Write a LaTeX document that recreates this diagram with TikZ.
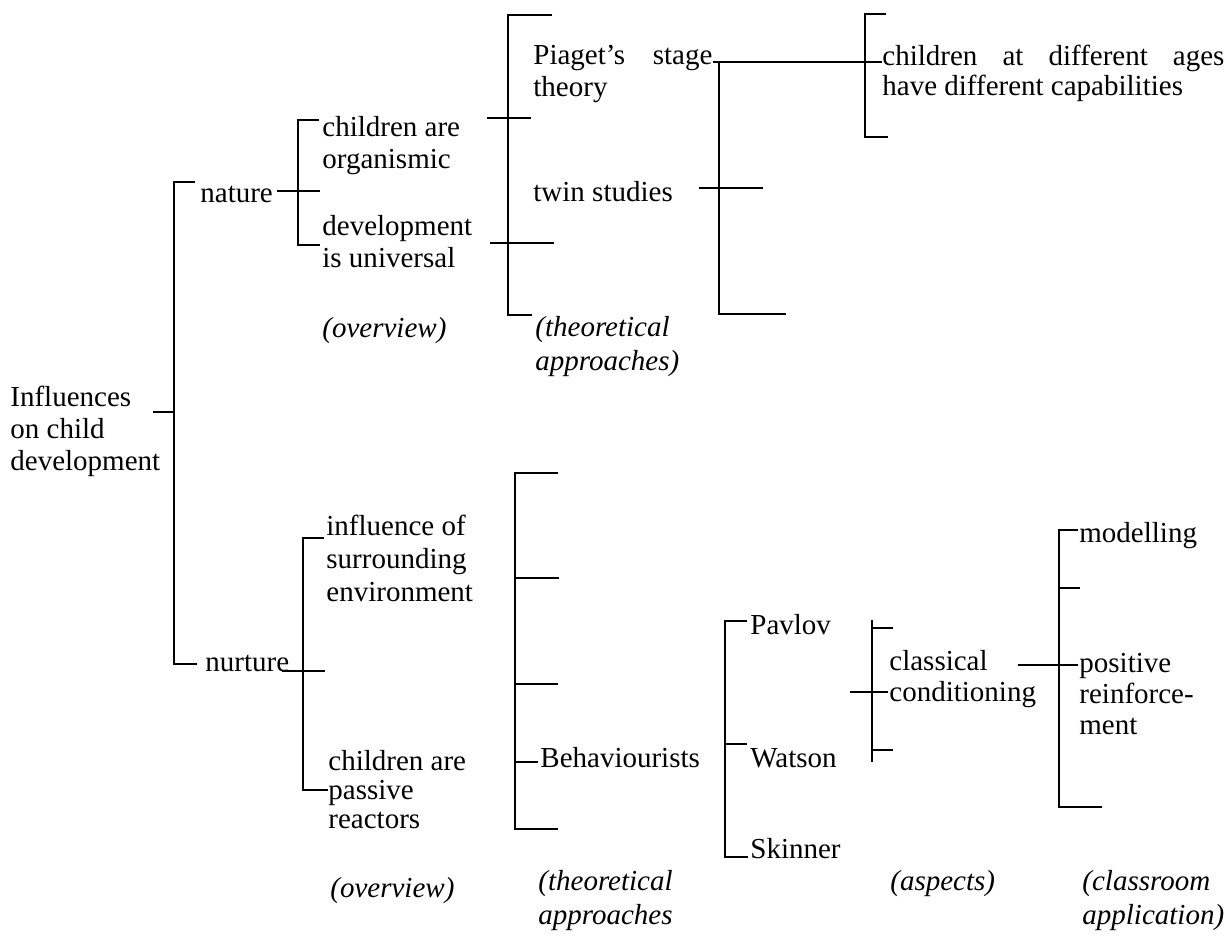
\documentclass[tikz,border=0pt]{standalone}
\usepackage{fontspec}
\setmainfont{Liberation Serif}
\begin{document}
\begin{tikzpicture}[x=0.5pt,y=-0.5pt,
  br/.style={line width=1.1pt},
  lbl/.style={anchor=base west, inner sep=0pt, align=left, font=\fontsize{14.5}{16}\selectfont},
  cat/.style={anchor=base west, inner sep=0pt, align=left, font=\fontsize{14.5}{17}\selectfont\itshape}]
\useasboundingbox (0,0) rectangle (1229,941);
% ---------- text (anchor = baseline of the last line) ----------
\node[lbl] (root) at (10,470) {Influences\\on child\\development};
\node[lbl] (nature) at (200,202) {nature};
\node[lbl] (nurture) at (205,671) {nurture};
\node[lbl] (org) at (322,169) {children are\\organismic};
\node[lbl] (univ) at (322,267) {development\\is universal};
\node[cat] (ov1) at (322,337) {(overview)};
\node[lbl] (piaget) at (533,97) {\makebox[89.5pt][s]{Piaget’s stage}\\theory};
\node[lbl] (twin) at (533,201) {twin studies};
\node[cat] (ta1) at (535,370) {(theoretical\\approaches)};
\node[lbl, font=\fontsize{14.5}{15}\selectfont] (ages) at (882,96) {\makebox[171pt][s]{children at different ages}\\have different capabilities};
\node[lbl, font=\fontsize{14.5}{16.5}\selectfont] (env) at (326,601) {influence of\\surrounding\\environment};
\node[lbl, font=\fontsize{14.5}{14.5}\selectfont] (pass) at (328,828) {children are\\passive\\reactors};
\node[cat] (ov2) at (330,897) {(overview)};
\node[lbl] (beh) at (540,767) {Behaviourists};
\node[cat] (ta2) at (538,924) {(theoretical\\approaches};
\node[lbl] (pav) at (750,634) {Pavlov};
\node[lbl] (wat) at (750,767) {Watson};
\node[lbl] (ski) at (750,858) {Skinner};
\node[lbl, font=\fontsize{14.5}{15.5}\selectfont] (cc) at (889,701) {classical\\conditioning};
\node[cat] (asp) at (890,890) {(aspects)};
\node[lbl] (mod) at (1079,542) {modelling};
\node[lbl, font=\fontsize{14.5}{15.5}\selectfont] (pos) at (1079,734) {positive\\reinforce-\\ment};
\node[cat] (cls) at (1082,924) {(classroom\\application)};
% ---------- brackets ----------
\draw[br] (195,182) -- (174,182) -- (174,664) -- (197,664);
\draw[br] (153,412) -- (174,412);
\draw[br] (277,191) -- (320,191);
\draw[br] (319,120) -- (298,120) -- (298,245) -- (320,245);
\draw[br] (552,15) -- (508,15) -- (508,315) -- (532,315);
\draw[br] (487,118) -- (531,118);
\draw[br] (490,243) -- (554,243);
\draw[br] (713,62) -- (882,62);
\draw[br] (719,62) -- (719,314) -- (786,314);
\draw[br] (699,188) -- (763,188);
\draw[br] (886,14) -- (865,14) -- (865,137) -- (888,137);
\draw[br] (282,671) -- (325,671);
\draw[br] (324,538) -- (303,538) -- (303,790) -- (328,790);
\draw[br] (558,473) -- (515,473) -- (515,829) -- (558,829);
\draw[br] (515,578) -- (559,578);
\draw[br] (515,684) -- (558,684);
\draw[br] (515,762) -- (538,762);
\draw[br] (747,621) -- (725,621) -- (725,857) -- (748,857);
\draw[br] (725,744) -- (747,744);
\draw[br] (872,620) -- (872,762);
\draw[br] (872,628) -- (893,628);
\draw[br] (872,750) -- (893,750);
\draw[br] (850,692) -- (888,692);
\draw[br] (1018,665) -- (1078,665);
\draw[br] (1078,530) -- (1059,530) -- (1059,807) -- (1102,807);
\draw[br] (1059,588) -- (1080,588);
\end{tikzpicture}
\end{document}
